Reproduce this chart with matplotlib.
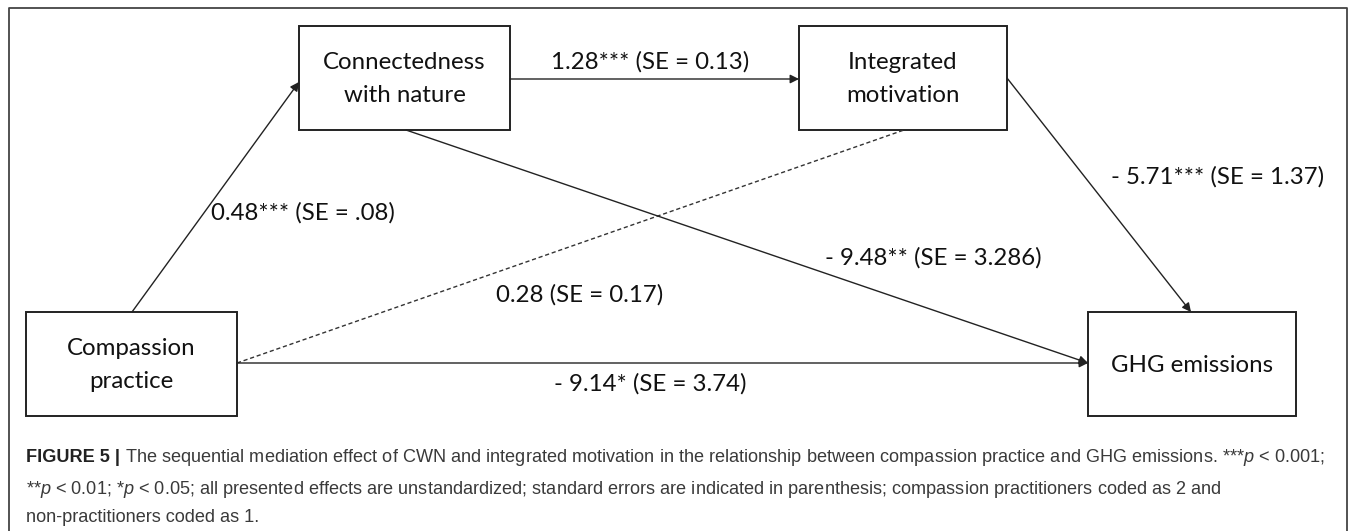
import matplotlib.pyplot as plt
from matplotlib.patches import Rectangle
from matplotlib import font_manager

# node labels and path coefficients
nodes = ["Connectedness\nwith nature", "Integrated\nmotivation",
         "Compassion\npractice", "GHG emissions"]
paths = ["a1", "d21", "b2", "b1", "a2", "c"]
coefs = [0.48, 1.28, -5.71, -9.48, 0.28, -9.14]
stars = ["***", "***", "***", "**", "", "*"]
ses = [".08", "0.13", "1.37", "3.286", "0.17", "3.74"]

caption_head = "FIGURE 5 |"
caption_lines = [
    r" The sequential mediation effect of CWN and integrated motivation in the relationship between compassion practice and GHG emissions. ***$p$ < 0.001;",
    r"**$p$ < 0.01; *$p$ < 0.05; all presented effects are unstandardized; standard errors are indicated in parenthesis; compassion practitioners coded as 2 and",
    "non-practitioners coded as 1.",
]

avail = {f.name for f in font_manager.fontManager.ttflist}
cap_font = "Liberation Sans Narrow" if "Liberation Sans Narrow" in avail else "Liberation Sans"
cap_size = 14 if cap_font.endswith("Narrow") else 13.1
diag_font = "Lato"

plt.rcParams["mathtext.fontset"] = "custom"
plt.rcParams["mathtext.rm"] = cap_font
plt.rcParams["mathtext.it"] = cap_font + ":italic"
plt.rcParams["mathtext.bf"] = cap_font + ":bold"

W, H = 1357, 531
fig = plt.figure(figsize=(W / 100, H / 100), dpi=100)
ax = fig.add_axes([0, 0, 1, 1])
ax.set_xlim(0, W)
ax.set_ylim(H, 0)
ax.axis("off")

# outer frame (bottom edge is cut off)
ax.plot([9, 9, 1347, 1347], [H + 5, 8, 8, H + 5], color="#444444", lw=1.3)

boxes = [(299, 26, 510, 130), (799, 26, 1007, 130),
         (26, 312, 237, 416), (1088, 312, 1296, 416)]
for name, (x0, y0, x1, y1) in zip(nodes, boxes):
    ax.add_patch(Rectangle((x0, y0), x1 - x0, y1 - y0, fill=False,
                           ec="#222222", lw=1.4))
    ax.text((x0 + x1) / 2, (y0 + y1) / 2 + 1, name, ha="center", va="center",
            fontsize=17.3, family=diag_font, color="#111111", linespacing=1.68)

# edge geometry: start, end, head?, dashed?
edges = {
    "a1": ((132, 312), (299, 82), True, False),
    "d21": ((510, 79), (799, 79), True, False),
    "b2": ((1007, 78), (1191, 312), True, False),
    "b1": ((406, 130), (1088, 363), True, False),
    "a2": ((237, 363), (904, 130), False, True),
    "c": ((237, 363), (1088, 363), True, False),
}
label_pos = {
    "a1": (303, 213), "d21": (650, 62), "b2": (1218, 177),
    "b1": (933, 258), "a2": (580, 295), "c": (650, 384),
}

for p, b, s, se in zip(paths, coefs, stars, ses):
    (xa, ya), (xb, yb), head, dashed = edges[p]
    if head:
        ax.annotate("", xy=(xb, yb), xytext=(xa, ya),
                    arrowprops=dict(arrowstyle="-|>", color="#222222", lw=1.0,
                                    mutation_scale=13, shrinkA=0, shrinkB=0))
    else:
        ax.plot([xa, xb], [ya, yb], color="#333333", lw=1.0,
                ls=(0, (3, 2)))
    num = f"- {abs(b):.2f}" if b < 0 else f"{b:.2f}"
    lx, ly = label_pos[p]
    ax.text(lx, ly, f"{num}{s} (SE = {se})", ha="center", va="center",
            fontsize=17.3, family=diag_font, color="#111111")

# caption
cy = [457, 490, 517]
head = ax.text(26, cy[0], caption_head, ha="left", va="center", fontsize=cap_size,
               family=cap_font, weight="bold", color="#222222")
fig.canvas.draw()
bb = head.get_window_extent()
x_after = ax.transData.inverted().transform((bb.x1, bb.y0))[0]
ax.text(x_after, cy[0], caption_lines[0], ha="left", va="center", fontsize=cap_size,
        family=cap_font, color="#3a3a3a")
for line, y in zip(caption_lines[1:], cy[1:]):
    ax.text(26, y, line, ha="left", va="center", fontsize=cap_size,
            family=cap_font, color="#3a3a3a")

fig.savefig("out.png", dpi=100)
